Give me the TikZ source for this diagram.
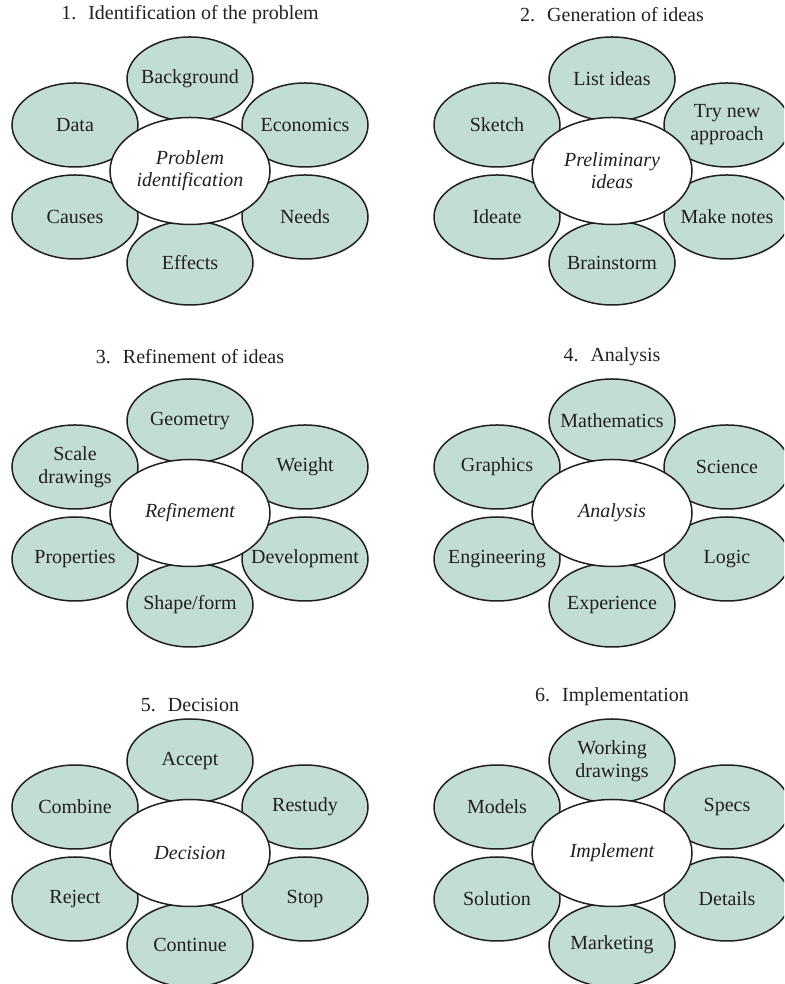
\documentclass[tikz,border=0pt]{standalone}
\usepackage{fontspec}
\setmainfont{Liberation Serif}
\usetikzlibrary{shapes.geometric}
\definecolor{petalcol}{HTML}{C2DDD5}
\definecolor{ink}{HTML}{231F20}
\begin{document}
\begin{tikzpicture}[x=1pt,y=1pt,
  every node/.style={font=\fontsize{20}{23}\selectfont, text=ink},
  lbl/.style={align=center, inner sep=0pt},
  petal/.style={ellipse, draw=ink, line width=1.5pt, fill=petalcol,
    minimum width=126pt, minimum height=84pt, inner sep=0pt,
    label={[lbl]center:#1}},
  hub/.style={ellipse, draw=ink, line width=1.5pt, fill=white,
    minimum width=160pt, minimum height=107pt, inner sep=0pt,
    label={[lbl, font=\fontsize{20}{22}\selectfont\itshape]center:#1}},
  ttl/.style={inner sep=0pt}]
\useasboundingbox (0,0) rectangle (784,984);
\clip (0,0) rectangle (784,984);

% Panel 1
\node[ttl] (t1) at (190,969) {1.\hspace{0.6em}Identification of the problem};
\node[petal={Background}] (a1) at (190,905) {};
\node[petal={Economics}] (a2) at (305,859) {};
\node[petal={Needs}] (a3) at (305,767) {};
\node[petal={Effects}] (a4) at (190,721) {};
\node[petal={Causes}] (a5) at (75,767) {};
\node[petal={Data}] (a6) at (75,859) {};
\node[hub={Problem\\identification}] (ac) at (190,813) {};

% Panel 2
\node[ttl] (t2) at (612,969) {2.\hspace{0.6em}Generation of ideas};
\node[petal={List ideas}] (b1) at (612,905) {};
\node[petal={Try new\\approach}] (b2) at (727,859) {};
\node[petal={Make notes}] (b3) at (727,767) {};
\node[petal={Brainstorm}] (b4) at (612,721) {};
\node[petal={Ideate}] (b5) at (497,767) {};
\node[petal={Sketch}] (b6) at (497,859) {};
\node[hub={Preliminary\\ideas}] (bc) at (612,813) {};

% Panel 3
\node[ttl] (t3) at (190,627) {3.\hspace{0.6em}Refinement of ideas};
\node[petal={Geometry}] (c1) at (190,563) {};
\node[petal={Weight}] (c2) at (305,517) {};
\node[petal={Development}] (c3) at (305,425) {};
\node[petal={Shape/form}] (c4) at (190,379) {};
\node[petal={Properties}] (c5) at (75,425) {};
\node[petal={Scale\\drawings}] (c6) at (75,517) {};
\node[hub={Refinement}] (cc) at (190,471) {};

% Panel 4
\node[ttl] (t4) at (612,627) {4.\hspace{0.6em}Analysis};
\node[petal={Mathematics}] (d1) at (612,563) {};
\node[petal={Science}] (d2) at (727,517) {};
\node[petal={Logic}] (d3) at (727,425) {};
\node[petal={Experience}] (d4) at (612,379) {};
\node[petal={Engineering}] (d5) at (497,425) {};
\node[petal={Graphics}] (d6) at (497,517) {};
\node[hub={Analysis}] (dc) at (612,471) {};

% Panel 5
\node[ttl] (t5) at (190,279) {5.\hspace{0.6em}Decision};
\node[petal={Accept}] (e1) at (190,223) {};
\node[petal={Restudy}] (e2) at (305,177) {};
\node[petal={Stop}] (e3) at (305,85) {};
\node[petal={Continue}] (e4) at (190,39) {};
\node[petal={Reject}] (e5) at (75,85) {};
\node[petal={Combine}] (e6) at (75,177) {};
\node[hub={Decision}] (ec) at (190,131) {};

% Panel 6
\node[ttl] (t6) at (612,287) {6.\hspace{0.6em}Implementation};
\node[petal={Working\\drawings}] (f1) at (612,223) {};
\node[petal={Specs}] (f2) at (727,177) {};
\node[petal={Details}] (f3) at (727,85) {};
\node[petal={Marketing}] (f4) at (612,39) {};
\node[petal={Solution}] (f5) at (497,85) {};
\node[petal={Models}] (f6) at (497,177) {};
\node[hub={Implement}] (fc) at (612,131) {};
\end{tikzpicture}
\end{document}
